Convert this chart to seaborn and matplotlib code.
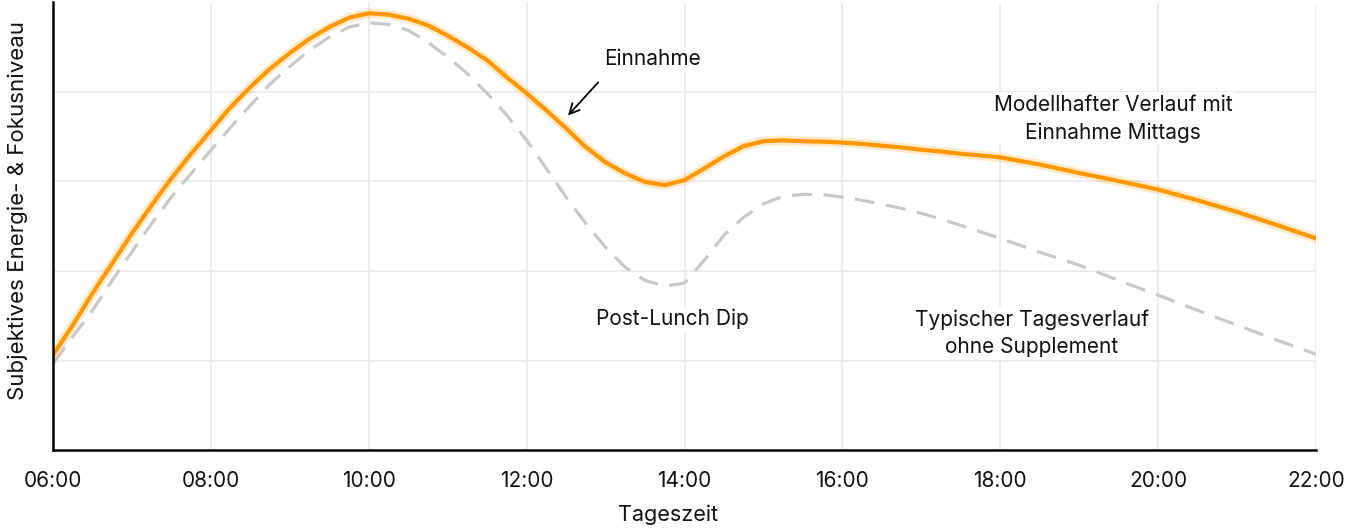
import pandas as pd
import matplotlib.pyplot as plt
import seaborn as sns

# hours of the day (15 min steps until 17:15, then 30 min)
hours = [6.0, 6.25, 6.5, 6.75, 7.0, 7.25, 7.5, 7.75, 8.0, 8.25, 8.5, 8.75,
         9.0, 9.25, 9.5, 9.75, 10.0, 10.25, 10.5, 10.75, 11.0, 11.25, 11.5, 11.75,
         12.0, 12.25, 12.5, 12.75, 13.0, 13.25, 13.5, 13.75, 14.0, 14.25, 14.5, 14.75,
         15.0, 15.25, 15.5, 15.75, 16.0, 16.25, 16.5, 16.75, 17.0, 17.25,
         17.5, 18.0, 18.5, 19.0, 19.5, 20.0, 20.5, 21.0, 21.5, 22.0]

# modelled course with intake at noon (orange)
with_intake = [21.2, 27.9, 35.0, 41.7, 48.4, 54.7, 60.7, 66.2, 71.4, 76.6, 81.1, 85.2,
               88.7, 91.9, 94.5, 96.6, 97.6, 97.3, 96.4, 94.9, 92.6, 90.0, 87.1, 83.3,
               79.7, 75.9, 71.9, 67.7, 64.3, 61.8, 59.9, 59.2, 60.3, 62.9, 65.6, 67.9,
               69.0, 69.2, 69.0, 68.9, 68.7, 68.4, 68.0, 67.6, 67.1, 66.7,
               66.2, 65.4, 63.8, 61.9, 60.1, 58.2, 55.8, 53.2, 50.3, 47.3]

# typical day without supplement (grey dashed)
typical = [19.3, 25.3, 31.2, 37.9, 44.3, 50.6, 56.5, 61.8, 67.0, 72.1, 77.0, 81.8,
           85.7, 89.3, 92.3, 94.5, 95.5, 95.1, 93.8, 91.1, 87.8, 84.1, 79.7, 74.8,
           69.2, 62.9, 56.5, 50.6, 45.3, 40.8, 37.9, 36.6, 37.3, 42.4, 48.0, 52.0,
           55.0, 56.7, 57.1, 57.1, 56.5, 55.8, 54.9, 54.0, 52.9, 51.6,
           50.2, 47.3, 44.2, 41.3, 37.9, 34.6, 31.2, 27.9, 24.6, 21.4]

tick_hours = [6, 8, 10, 12, 14, 16, 18, 20, 22]
tick_labels = ["06:00", "08:00", "10:00", "12:00", "14:00", "16:00", "18:00", "20:00", "22:00"]

df = pd.DataFrame({"hour": hours, "with_intake": with_intake, "typical": typical})

sns.set_style("white")
plt.rcParams["font.family"] = ["Inter", "DejaVu Sans"]

fig = plt.figure(figsize=(13.52, 5.30), dpi=100)
ax = fig.add_axes([53 / 1352, 1 - 450 / 530, (1316 - 53) / 1352, (450 - 2.5) / 530])

ORANGE = "#FF9800"
TEXT = "#111111"

# grey dashed baseline
sns.lineplot(data=df, x="hour", y="typical", ax=ax, color="#C8C8C8",
             linewidth=2.3, zorder=3)
ax.lines[-1].set_dashes((6.3, 3.6))

# soft glow under the orange line
sns.lineplot(data=df, x="hour", y="with_intake", ax=ax, color=ORANGE,
             linewidth=7.0, alpha=0.2, zorder=4)
sns.lineplot(data=df, x="hour", y="with_intake", ax=ax, color=ORANGE,
             linewidth=3.0, zorder=5)
for ln in ax.lines:
    ln.set_solid_capstyle("round")
    ln.set_solid_joinstyle("round")

ax.set_xlim(6, 22)
ax.set_ylim(0, 100)
ax.set_xticks(tick_hours)
ax.set_xticklabels(tick_labels)
ax.set_yticks([20, 40, 60, 80, 100])
ax.set_yticklabels([])
ax.tick_params(axis="x", length=0, pad=15, labelsize=15, colors=TEXT)
ax.tick_params(axis="y", length=0)

ax.grid(True, color="#EBEBEB", linewidth=1.3)
ax.set_axisbelow(True)
for side in ["top", "right"]:
    ax.spines[side].set_visible(False)
for side in ["left", "bottom"]:
    ax.spines[side].set_color("black")
    ax.spines[side].set_linewidth(1.8)
    ax.spines[side].set_zorder(6)

ax.set_xlabel("Tageszeit", fontsize=15.5, color=TEXT)
ax.set_ylabel("Subjektives Energie- & Fokusniveau", fontsize=16, color=TEXT)
ax.xaxis.set_label_coords((668 - 53) / 1263, -(515 - 450) / 447.5, transform=ax.transAxes)
ax.yaxis.set_label_coords(-(53 - 28) / 1263, (450 - 210) / 447.5)
ax.xaxis.label.set_va("center")

box = dict(facecolor="white", edgecolor="none", pad=2)
txt = dict(fontsize=15, color=TEXT, ha="center", va="center",
           linespacing=1.42, bbox=box, zorder=7)

ax.annotate("", xy=(12.50, 74.3), xytext=(12.93, 82.6),
            arrowprops=dict(arrowstyle="->", color="black", lw=1.3,
                            mutation_scale=18), zorder=7)
ax.text(13.59, 87.3, "Einnahme", **txt)
ax.text(13.85, 29.3, "Post-Lunch Dip", **txt)
ax.text(19.43, 74.0, "Modellhafter Verlauf mit\nEinnahme Mittags", **txt)
ax.text(18.40, 26.1, "Typischer Tagesverlauf\nohne Supplement", **txt)

fig.savefig("out.png", dpi=100)
